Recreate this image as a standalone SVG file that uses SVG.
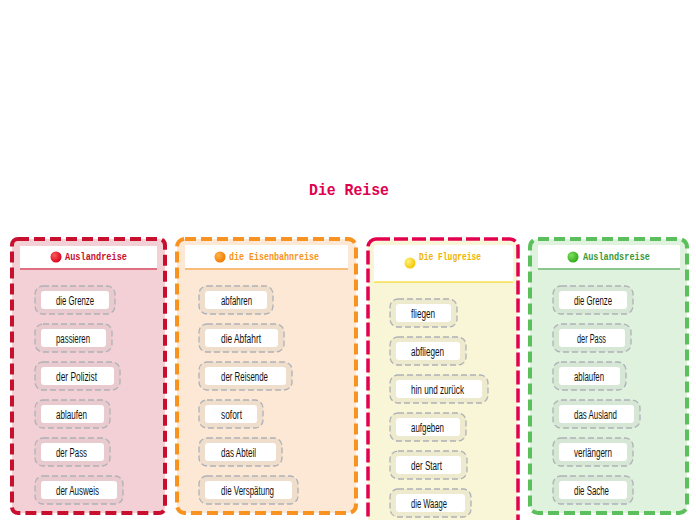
<svg xmlns="http://www.w3.org/2000/svg" width="696" height="520" viewBox="0 0 696 520">
<defs>
<radialGradient id="gr" cx="0.35" cy="0.35" r="0.7"><stop offset="0" stop-color="#ff5a5a"/><stop offset="1" stop-color="#d4001a"/></radialGradient>
<radialGradient id="go" cx="0.35" cy="0.35" r="0.7"><stop offset="0" stop-color="#ffb347"/><stop offset="1" stop-color="#f07800"/></radialGradient>
<radialGradient id="gy" cx="0.35" cy="0.35" r="0.7"><stop offset="0" stop-color="#fff27a"/><stop offset="1" stop-color="#f5c400"/></radialGradient>
<radialGradient id="gg" cx="0.35" cy="0.35" r="0.7"><stop offset="0" stop-color="#7de05a"/><stop offset="1" stop-color="#2fa81a"/></radialGradient>
</defs>
<style>
.panel{stroke-width:4;stroke-dasharray:11 5}
.hdr{fill:#ffffff}
.ttl{font-family:"Liberation Mono","DejaVu Sans Mono",monospace;font-weight:bold;font-size:10.5px}
.io{fill:rgba(180,175,165,0.16);stroke:#aeb1b6;stroke-width:1.3;stroke-dasharray:6 3}
.ii{fill:#ffffff}
.it{font-family:"Liberation Sans","DejaVu Sans",sans-serif;font-size:12px;fill:#111}
</style>
<text x="349" y="195" text-anchor="middle" font-family="Liberation Mono,DejaVu Sans Mono,monospace" font-weight="bold" font-size="16" fill="#e0004d" textLength="80" lengthAdjust="spacingAndGlyphs">Die Reise</text>

<g id="panel-auslandreise">
<rect class="panel" x="12" y="239" width="153" height="274" rx="6" fill="#f3d0d6" stroke="#c8102e"/>
<rect class="hdr" x="20" y="246" width="137" height="22"/>
<line x1="20" y1="269" x2="157" y2="269" stroke="#c8102e" stroke-width="1"/>
<circle cx="56" cy="257" r="5.5" fill="url(#gr)"/>
<text class="ttl" x="65" y="260" fill="#c8102e" textLength="62" lengthAdjust="spacingAndGlyphs">Auslandreise</text>
</g>
<g id="panel-eisenbahnreise">
<rect class="panel" x="177" y="239" width="179" height="274" rx="8" fill="#fce8d4" stroke="#f7931e"/>
<rect class="hdr" x="185" y="245" width="163" height="23"/>
<line x1="185" y1="269" x2="348" y2="269" stroke="#f7931e" stroke-width="1"/>
<circle cx="220" cy="257" r="5.5" fill="url(#go)"/>
<text class="ttl" x="229" y="260" fill="#f7931e" textLength="90" lengthAdjust="spacingAndGlyphs">die Eisenbahnreise</text>
</g>
<g id="panel-flugreise">
<rect class="panel" x="368" y="239" width="150" height="295" rx="8" fill="#f8f6d6" stroke="#e2004f" style="stroke-width:3.5;stroke-dasharray:14 4"/>
<rect class="hdr" x="374" y="245" width="139" height="37"/>
<line x1="374" y1="282" x2="513" y2="282" stroke="#f5d000" stroke-width="1"/>
<circle cx="410" cy="263" r="5.5" fill="url(#gy)"/>
<text class="ttl" x="419" y="260" fill="#f0b400" textLength="62" lengthAdjust="spacingAndGlyphs">Die Flugreise</text>
</g>
<g id="panel-auslandsreise">
<rect class="panel" x="530" y="239" width="157" height="274" rx="8" fill="#def2de" stroke="#5bc05b"/>
<rect class="hdr" x="538" y="245" width="142" height="23"/>
<line x1="538" y1="269" x2="680" y2="269" stroke="#3a9a3a" stroke-width="1"/>
<circle cx="573" cy="257" r="5.5" fill="url(#gg)"/>
<text class="ttl" x="583" y="260" fill="#3a9a3a" textLength="67" lengthAdjust="spacingAndGlyphs">Auslandsreise</text>
</g>

<g id="items-1">
<g id="n1-1"><rect class="io" x="35" y="286" width="80" height="28" rx="8"/><rect class="ii" x="41" y="291" width="68" height="18" rx="3"/><text class="it" x="56" y="304.5" textLength="38" lengthAdjust="spacingAndGlyphs">die Grenze</text></g>
<g id="n1-2"><rect class="io" x="35" y="324" width="77" height="28" rx="8"/><rect class="ii" x="41" y="329" width="65" height="18" rx="3"/><text class="it" x="56" y="342.5" textLength="34" lengthAdjust="spacingAndGlyphs">passieren</text></g>
<g id="n1-3"><rect class="io" x="35" y="362" width="85" height="28" rx="8"/><rect class="ii" x="41" y="367" width="73" height="18" rx="3"/><text class="it" x="56" y="380.5" textLength="41" lengthAdjust="spacingAndGlyphs">der Polizist</text></g>
<g id="n1-4"><rect class="io" x="35" y="400" width="75" height="28" rx="8"/><rect class="ii" x="41" y="405" width="63" height="18" rx="3"/><text class="it" x="56" y="418.5" textLength="31" lengthAdjust="spacingAndGlyphs">ablaufen</text></g>
<g id="n1-5"><rect class="io" x="35" y="438" width="75" height="28" rx="8"/><rect class="ii" x="41" y="443" width="63" height="18" rx="3"/><text class="it" x="56" y="456.5" textLength="31" lengthAdjust="spacingAndGlyphs">der Pass</text></g>
<g id="n1-6"><rect class="io" x="35" y="476" width="88" height="28" rx="8"/><rect class="ii" x="41" y="481" width="76" height="18" rx="3"/><text class="it" x="56" y="494.5" textLength="43" lengthAdjust="spacingAndGlyphs">der Ausweis</text></g>
</g>

<g id="items-2">
<g id="n2-1"><rect class="io" x="199" y="286" width="74" height="28" rx="8"/><rect class="ii" x="205" y="291" width="62" height="18" rx="3"/><text class="it" x="221" y="304.5" textLength="31" lengthAdjust="spacingAndGlyphs">abfahren</text></g>
<g id="n2-2"><rect class="io" x="199" y="324" width="85" height="28" rx="8"/><rect class="ii" x="205" y="329" width="73" height="18" rx="3"/><text class="it" x="221" y="342.5" textLength="40" lengthAdjust="spacingAndGlyphs">die Abfahrt</text></g>
<g id="n2-3"><rect class="io" x="199" y="362" width="93" height="28" rx="8"/><rect class="ii" x="205" y="367" width="81" height="18" rx="3"/><text class="it" x="221" y="380.5" textLength="47" lengthAdjust="spacingAndGlyphs">der Reisende</text></g>
<g id="n2-4"><rect class="io" x="199" y="400" width="64" height="28" rx="8"/><rect class="ii" x="205" y="405" width="52" height="18" rx="3"/><text class="it" x="221" y="418.5" textLength="21" lengthAdjust="spacingAndGlyphs">sofort</text></g>
<g id="n2-5"><rect class="io" x="199" y="438" width="83" height="28" rx="8"/><rect class="ii" x="205" y="443" width="71" height="18" rx="3"/><text class="it" x="221" y="456.5" textLength="35" lengthAdjust="spacingAndGlyphs">das Abteil</text></g>
<g id="n2-6"><rect class="io" x="199" y="476" width="99" height="28" rx="8"/><rect class="ii" x="205" y="481" width="87" height="18" rx="3"/><text class="it" x="221" y="494.5" textLength="53" lengthAdjust="spacingAndGlyphs">die Verspätung</text></g>
</g>

<g id="items-3">
<g id="n3-1"><rect class="io" x="390" y="299" width="67" height="28" rx="8"/><rect class="ii" x="396" y="304" width="55" height="18" rx="3"/><text class="it" x="411" y="317.5" textLength="24" lengthAdjust="spacingAndGlyphs">fliegen</text></g>
<g id="n3-2"><rect class="io" x="390" y="337" width="76" height="28" rx="8"/><rect class="ii" x="396" y="342" width="64" height="18" rx="3"/><text class="it" x="411" y="355.5" textLength="33" lengthAdjust="spacingAndGlyphs">abfliegen</text></g>
<g id="n3-3"><rect class="io" x="390" y="375" width="98" height="28" rx="8"/><rect class="ii" x="396" y="380" width="86" height="18" rx="3"/><text class="it" x="411" y="393.5" textLength="53" lengthAdjust="spacingAndGlyphs">hin und zurück</text></g>
<g id="n3-4"><rect class="io" x="390" y="413" width="76" height="28" rx="8"/><rect class="ii" x="396" y="418" width="64" height="18" rx="3"/><text class="it" x="411" y="431.5" textLength="33" lengthAdjust="spacingAndGlyphs">aufgeben</text></g>
<g id="n3-5"><rect class="io" x="390" y="451" width="77" height="28" rx="8"/><rect class="ii" x="396" y="456" width="65" height="18" rx="3"/><text class="it" x="411" y="469.5" textLength="31" lengthAdjust="spacingAndGlyphs">der Start</text></g>
<g id="n3-6"><rect class="io" x="390" y="489" width="81" height="28" rx="8"/><rect class="ii" x="396" y="494" width="69" height="18" rx="3"/><text class="it" x="411" y="507.5" textLength="36" lengthAdjust="spacingAndGlyphs">die Waage</text></g>
</g>

<g id="items-4">
<g id="n4-1"><rect class="io" x="553" y="286" width="80" height="28" rx="8"/><rect class="ii" x="559" y="291" width="68" height="18" rx="3"/><text class="it" x="574" y="304.5" textLength="38" lengthAdjust="spacingAndGlyphs">die Grenze</text></g>
<g id="n4-2"><rect class="io" x="553" y="324" width="78" height="28" rx="8"/><rect class="ii" x="559" y="329" width="66" height="18" rx="3"/><text class="it" x="577" y="342.5" textLength="29" lengthAdjust="spacingAndGlyphs">der Pass</text></g>
<g id="n4-3"><rect class="io" x="553" y="362" width="73" height="28" rx="8"/><rect class="ii" x="559" y="367" width="61" height="18" rx="3"/><text class="it" x="574" y="380.5" textLength="30" lengthAdjust="spacingAndGlyphs">ablaufen</text></g>
<g id="n4-4"><rect class="io" x="553" y="400" width="87" height="28" rx="8"/><rect class="ii" x="559" y="405" width="75" height="18" rx="3"/><text class="it" x="574" y="418.5" textLength="43" lengthAdjust="spacingAndGlyphs">das Ausland</text></g>
<g id="n4-5"><rect class="io" x="553" y="438" width="80" height="28" rx="8"/><rect class="ii" x="559" y="443" width="68" height="18" rx="3"/><text class="it" x="574" y="456.5" textLength="38" lengthAdjust="spacingAndGlyphs">verlängern</text></g>
<g id="n4-6"><rect class="io" x="553" y="476" width="80" height="28" rx="8"/><rect class="ii" x="559" y="481" width="68" height="18" rx="3"/><text class="it" x="574" y="494.5" textLength="35" lengthAdjust="spacingAndGlyphs">die Sache</text></g>
</g>
<g id="connectors"/>
</svg>
